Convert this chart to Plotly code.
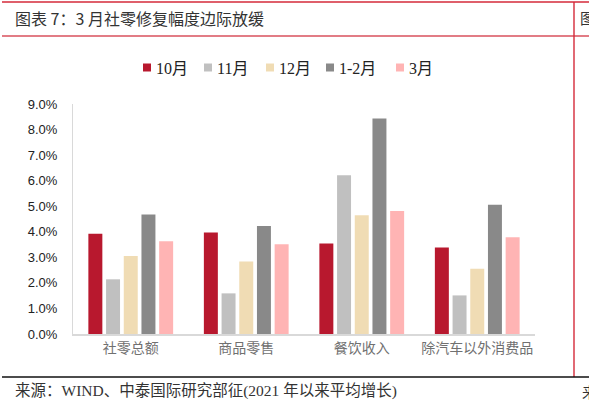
import plotly.graph_objects as go

categories = ["社零总额", "商品零售", "餐饮收入", "除汽车以外消费品"]
series_names = ["10月", "11月", "12月", "1-2月", "3月"]
v_oct = [3.92, 3.97, 3.54, 3.38]
v_nov = [2.14, 1.59, 6.21, 1.51]
v_dec = [3.05, 2.84, 4.65, 2.55]
v_janfeb = [4.68, 4.23, 8.43, 5.06]
v_mar = [3.63, 3.51, 4.81, 3.79]
series_values = [v_oct, v_nov, v_dec, v_janfeb, v_mar]
colors = ["#B8182E", "#C0C0C0", "#F0DCB4", "#898989", "#FFB4B4"]

W, H = 589, 411
L, R, T, B = 73, 535, 104, 334


def px(x):
    return (x - L) / (R - L)


def py(y):
    return (B - y) / (B - T)


fig = go.Figure()
for name, vals, c in zip(series_names, series_values, colors):
    fig.add_trace(go.Bar(name=name, x=categories, y=vals, marker=dict(color=c, line=dict(width=0))))

fig.update_layout(
    width=W, height=H,
    margin=dict(l=L, r=W - R, t=T, b=H - B, pad=0),
    paper_bgcolor="white", plot_bgcolor="white",
    barmode="group", bargap=0.234, bargroupgap=0.21,
    showlegend=False,
    font=dict(family="Noto Sans CJK SC"),
)
fig.update_xaxes(showline=True, linecolor="#D9D9D9", linewidth=1.5, ticks="", showgrid=False,
                 tickfont=dict(family="Noto Sans CJK SC", size=14, color="#707070"))
fig.update_yaxes(range=[0, 9], dtick=1, tickformat=".1f", ticksuffix="%", showgrid=False,
                 showline=True, linecolor="#D9D9D9", linewidth=1, zeroline=False, ticks="",
                 ticklabelstandoff=12,
                 tickfont=dict(family="Liberation Sans", size=13, color="#222222"))

shapes = [
    dict(type="line", xref="paper", yref="paper", x0=px(2), x1=px(589), y0=py(2), y1=py(2),
         line=dict(color="#D42A3A", width=1.6)),
    dict(type="line", xref="paper", yref="paper", x0=px(2), x1=px(589), y0=py(36), y1=py(36),
         line=dict(color="#D8505C", width=1.6)),
    dict(type="line", xref="paper", yref="paper", x0=px(574), x1=px(574), y0=py(2), y1=py(377),
         line=dict(color="#D42A3A", width=1.4)),
    dict(type="line", xref="paper", yref="paper", x0=px(2), x1=px(589), y0=py(377), y1=py(377),
         line=dict(color="#111111", width=1.4)),
]

ann = [
    dict(text="图表 7：3 月社零修复幅度边际放缓", x=px(13), y=py(18), xanchor="left", yanchor="middle",
         font=dict(family="Noto Sans CJK SC", size=16, color="#333333")),
    dict(text="来源：WIND、中泰国际研究部征(2021 年以来平均增长)", x=px(13), y=py(391), xanchor="left",
         yanchor="middle", font=dict(family="Liberation Serif, Noto Sans CJK SC", size=15.5, color="#333333")),
    dict(text="图", x=px(578), y=py(18), xanchor="left", yanchor="middle",
         font=dict(family="Noto Sans CJK SC", size=15, color="#333333")),
    dict(text="来", x=px(580), y=py(391), xanchor="left", yanchor="middle",
         font=dict(family="Noto Sans CJK SC", size=15, color="#333333")),
]

# custom legend (compact, like the reference)
legend_marker_x = [143, 204, 266, 326, 396]
for name, c, mx in zip(series_names, colors, legend_marker_x):
    shapes.append(dict(type="rect", xref="paper", yref="paper", x0=px(mx), x1=px(mx + 8),
                       y0=py(63.5), y1=py(71.5), fillcolor=c, line=dict(width=0)))
    ann.append(dict(text=name, x=px(mx + 11), y=py(68), xanchor="left", yanchor="middle",
                    font=dict(family="Liberation Serif, Noto Sans CJK SC", size=16, color="#222222")))

for a in ann:
    a.update(xref="paper", yref="paper", showarrow=False)
fig.update_layout(shapes=shapes, annotations=ann)

fig.write_html("out.html", config={"displayModeBar": False},
               post_script="document.body.style.margin='0';document.body.style.overflow='hidden';")
